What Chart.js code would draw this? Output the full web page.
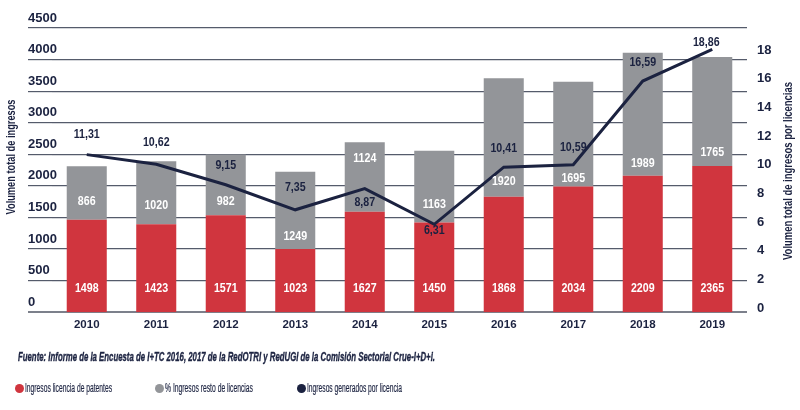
<!DOCTYPE html>
<html><head><meta charset="utf-8">
<script src="https://cdn.jsdelivr.net/npm/chart.js@4.4.1/dist/chart.umd.min.js"></script>
<style>
html,body{margin:0;padding:0;background:#fff;}
#wrap{position:relative;width:800px;height:410px;overflow:hidden;background:#fff;}
#c{position:absolute;left:0;top:0;}
.src{position:absolute;left:18px;top:349px;font:italic bold 13.5px 'Liberation Sans',Arial,sans-serif;color:#1d2442;white-space:nowrap;transform-origin:0 50%;-webkit-text-stroke:0.4px #1d2442;}
.lg{position:absolute;top:381px;font:12.5px 'Liberation Sans',Arial,sans-serif;color:#1d2442;white-space:nowrap;}
.lg i{position:absolute;left:0;top:3px;width:9px;height:9px;border-radius:50%;}
.lg span{position:absolute;left:10px;top:0;display:inline-block;transform-origin:0 50%;-webkit-text-stroke:0.2px #1d2442;}
</style></head>
<body>
<div id="wrap">
<canvas id="c" width="800" height="410"></canvas>
<div class="src fit" data-w="417">Fuente: Informe de la Encuesta de I+TC 2016, 2017 de la RedOTRI y RedUGI de la Comisión Sectorial Crue-I+D+i.</div>
<div class="lg" style="left:15px"><i style="background:#d0353e"></i><span class="fit" data-w="87">Ingresos licencia de patentes</span></div>
<div class="lg" style="left:155px"><i style="background:#939599"></i><span class="fit" data-w="88">% Ingresos resto de licencias</span></div>
<div class="lg" style="left:297px"><i style="background:#1b2240"></i><span class="fit" data-w="95">Ingresos generados por licencia</span></div>
</div>
<script>
const years = ['2010','2011','2012','2013','2014','2015','2016','2017','2018','2019'];
const patentIncome = [1498,1423,1571,1023,1627,1450,1868,2034,2209,2365];
const otherLicenseIncome = [866,1020,982,1249,1124,1163,1920,1695,1989,1765];
const incomePerLicense = [11.31,10.62,9.15,7.35,8.87,6.31,10.41,10.59,16.59,18.86];
const leftTicks = [0,500,1000,1500,2000,2500,3000,3500,4000,4500];
const rightTicks = [0,2,4,6,8,10,12,14,16,18];
const leftTitle = 'Volumen total de ingresos';
const rightTitle = 'Volumen total de ingresos por licencias';

const F = "'Liberation Sans',Arial,sans-serif";
const NAVY = '#1b2240';

document.querySelectorAll('.fit').forEach(el => {
  const w = el.getBoundingClientRect().width;
  const t = parseFloat(el.dataset.w);
  if (w > 0) el.style.transform = 'scaleX(' + (t / w) + ')';
});

const fmt = v => v.toFixed(2).replace('.', ',');

function narrowText(ctx, text, x, y, sx) {
  ctx.save();
  ctx.translate(x, y);
  ctx.scale(sx, 1);
  ctx.fillText(text, 0, 0);
  ctx.restore();
}

const labelPlugin = {
  id: 'valueLabels',
  afterDatasetsDraw(chart, args, opts) {
    const ctx = chart.ctx;
    ctx.save();
    ctx.textAlign = 'center';
    ctx.textBaseline = 'middle';
    const m0 = chart.getDatasetMeta(0), m1 = chart.getDatasetMeta(1), m2 = chart.getDatasetMeta(2);
    ctx.font = 'bold 13px ' + F;
    ctx.fillStyle = '#ffffff';
    m0.data.forEach((el, i) => narrowText(ctx, String(patentIncome[i]), el.x, el.base - opts.redLift, opts.sx));
    m1.data.forEach((el, i) => narrowText(ctx, String(otherLicenseIncome[i]), el.x, el.base - opts.greyLift[i], opts.sx));
    ctx.fillStyle = NAVY;
    m2.data.forEach((el, i) => narrowText(ctx, fmt(incomePerLicense[i]), el.x + opts.lineDx[i], el.y + opts.lineDy[i], opts.sx));
    ctx.restore();
  }
};

const titlePlugin = {
  id: 'axisTitles',
  afterDraw(chart, args, opts) {
    const ctx = chart.ctx;
    [[leftTitle, opts.leftX, opts.leftY, opts.leftLen], [rightTitle, opts.rightX, opts.rightY, opts.rightLen]].forEach(([t, x, y, len]) => {
      ctx.save();
      ctx.font = 'bold 12px ' + F;
      ctx.fillStyle = NAVY;
      ctx.textAlign = 'center';
      ctx.textBaseline = 'middle';
      const w = ctx.measureText(t).width;
      ctx.translate(x, y);
      ctx.rotate(-Math.PI / 2);
      ctx.scale(len / w, 1);
      ctx.fillText(t, 0, 0);
      ctx.restore();
    });
  }
};

new Chart(document.getElementById('c'), {
  data: {
    labels: years,
    datasets: [
      { type: 'bar', label: 'Ingresos licencia de patentes', data: patentIncome, backgroundColor: '#d0353e', yAxisID: 'yBars', order: 2, barPercentage: 0.576, categoryPercentage: 1 },
      { type: 'bar', label: '% Ingresos resto de licencias', data: otherLicenseIncome, backgroundColor: '#939599', yAxisID: 'yBars', order: 2, barPercentage: 0.576, categoryPercentage: 1 },
      { type: 'line', label: 'Ingresos generados por licencia', data: incomePerLicense, borderColor: NAVY, borderWidth: 3, pointRadius: 0, tension: 0, yAxisID: 'yLine', order: 0 }
    ]
  },
  options: {
    responsive: false,
    animation: false,
    devicePixelRatio: 1,
    layout: { padding: { left: 28, top: 28, right: 0, bottom: 72 } },
    plugins: {
      legend: { display: false },
      tooltip: { enabled: false },
      valueLabels: {
        sx: 0.82,
        redLift: 24,
        greyLift: [18, 19, 14, 13, 53, 18, 15, 8, 12, 14],
        lineDx: [0, 0, 0, 0, 0, 0, 0, 0, 0, -6],
        lineDy: [-20, -22, -19, -22, 14, 6, -19, -17, -19, -7]
      },
      axisTitles: { leftX: 12, leftY: 157, leftLen: 115, rightX: 789, rightY: 171, rightLen: 178 }
    },
    scales: {
      x: {
        stacked: true, offset: true,
        grid: { display: false, drawTicks: false },
        border: { display: false },
        ticks: { padding: 6, color: NAVY, font: { family: F, size: 11.5, weight: 'bold' } }
      },
      y: {
        position: 'left', min: 0, max: 4500,
        afterBuildTicks: s => { s.ticks = leftTicks.map(v => ({ value: v })); },
        afterFit: s => { s.width = 24; },
        grid: {
          color: c => (c.tick && c.tick.value === 0) ? '#7c808b' : '#555b6b',
          lineWidth: c => (c.tick && c.tick.value === 0) ? 2 : 1.2,
          drawTicks: true, tickLength: 24
        },
        border: { display: false },
        ticks: { mirror: true, crossAlign: 'near', labelOffset: -10, padding: -24, color: NAVY, font: { family: F, size: 13, weight: 'bold' } }
      },
      yBars: { display: false, stacked: true, min: 0, max: 4600 },
      yLine: { display: false, min: 0, max: 20.4 },
      y2: {
        position: 'right', min: -0.28, max: 19.54,
        afterBuildTicks: s => { s.ticks = rightTicks.map(v => ({ value: v })); },
        afterFit: s => { s.width = 53; },
        grid: { display: false, drawTicks: false, drawOnChartArea: false },
        border: { display: false },
        ticks: { padding: 10, color: NAVY, font: { family: F, size: 13, weight: 'bold' } }
      }
    }
  },
  plugins: [labelPlugin, titlePlugin]
});
</script>
</body></html>
